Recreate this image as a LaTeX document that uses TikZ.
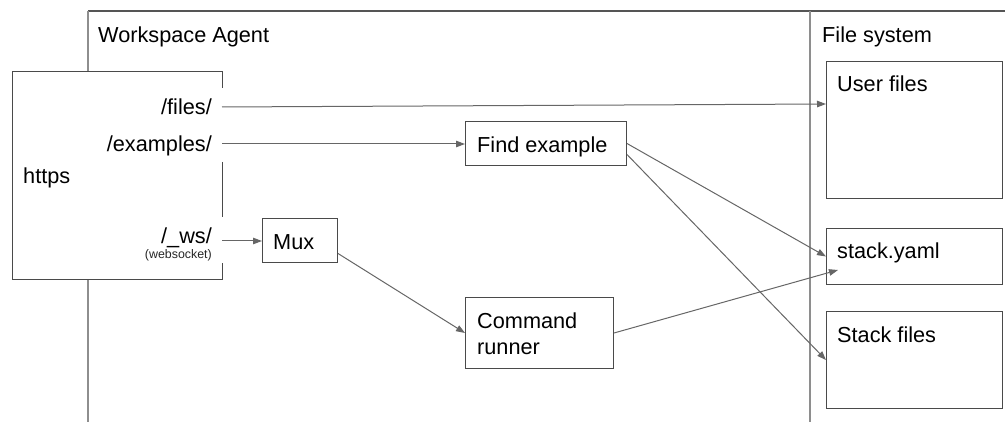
\documentclass[tikz,border=0pt]{standalone}
\usepackage{fontspec}
\setmainfont{Liberation Sans}
\usetikzlibrary{arrows.meta}
\definecolor{framedark}{HTML}{555555}
\definecolor{framelight}{HTML}{8E8E8E}
\definecolor{boxline}{HTML}{4A4A4A}
\definecolor{arrowline}{HTML}{666666}
\tikzset{
  fbox/.style={draw=boxline, line width=1pt, fill=white, rectangle, inner sep=0pt, anchor=north west},
  txt/.style={inner sep=0pt, font=\fontsize{21.7}{26}\selectfont, text=black},
  smalltxt/.style={inner sep=0pt, font=\fontsize{12.4}{14}\selectfont, text=black!85},
  flow/.style={draw=arrowline, line width=1pt, -{Triangle[length=9pt,width=6.5pt]}},
}
\begin{document}
\begin{tikzpicture}[x=1pt,y=-1pt]
\useasboundingbox (0,0) rectangle (1005,422);

% outer frame: agent area and file-system column
\draw[framedark, line width=1.1pt] (88,11) -- (1005,11);
\draw[framelight, line width=1.1pt] (88,11) -- (88,422);
\draw[framelight, line width=1.3pt] (810,11) -- (810,422);
\node[txt, anchor=base west] (agentlbl) at (98,43) {Workspace Agent};
\node[txt, anchor=base west] (fslbl) at (822,43) {File system};

% https entry box with gaps on its right side for the routes
\fill[white] (12,72) rectangle (222,280);
\draw[boxline, line width=1pt] (222,88) -- (222,72) -- (12,72) -- (12,280) -- (222,280) -- (222,263);
\draw[boxline, line width=1pt] (222,162) -- (222,217);
\node[txt, anchor=base west] (https) at (23,184) {https};
\node[txt, anchor=base east] (files) at (212,115) {/files/};
\node[txt, anchor=base east] (examples) at (212,152) {/examples/};
\node[txt, anchor=base east] (ws) at (212,244) {/\_ws/};
\node[smalltxt, anchor=base east] (wsnote) at (212,258.5) {(websocket)};
\coordinate (filesout) at (222,107);
\coordinate (examplesout) at (222,144);
\coordinate (wsout) at (222,241);

% agent components
\node[fbox, minimum width=75pt, minimum height=44pt] (mux) at (262,218) {};
\node[txt, anchor=base west] (muxlbl) at (273,250) {Mux};
\node[fbox, minimum width=161pt, minimum height=44pt] (find) at (465,121) {};
\node[txt, anchor=base west] (findlbl) at (477,153) {Find example};
\node[fbox, minimum width=148pt, minimum height=71pt] (cmd) at (465,297) {};
\node[txt, anchor=base west] (cmdlbl1) at (477,329) {Command};
\node[txt, anchor=base west] (cmdlbl2) at (477,355) {runner};

% file-system entries
\node[fbox, minimum width=176pt, minimum height=137pt] (user) at (826,61) {};
\node[txt, anchor=base west] (userlbl) at (837,92) {User files};
\node[fbox, minimum width=176pt, minimum height=56pt] (yaml) at (826,228) {};
\node[txt, anchor=base west] (yamllbl) at (837,259) {stack.yaml};
\node[fbox, minimum width=176pt, minimum height=97pt] (sfiles) at (826,311) {};
\node[txt, anchor=base west] (sfileslbl) at (837,342) {Stack files};
\coordinate (yamlin) at (838,270);

% routes
\draw[flow] (filesout) -- ([yshift=26pt]user.west);
\draw[flow] (examplesout) -- (examplesout -| find.west);
\draw[flow] (wsout) -- (wsout -| mux.west);
\draw[flow] ([yshift=-13pt]mux.east) -- (cmd.west);
\draw[flow] (find.east) -- (yaml.west);
\draw[flow] ([yshift=-11pt]find.east) -- (sfiles.west);
\draw[flow] (cmd.east) -- (yamlin);
\end{tikzpicture}
\end{document}
